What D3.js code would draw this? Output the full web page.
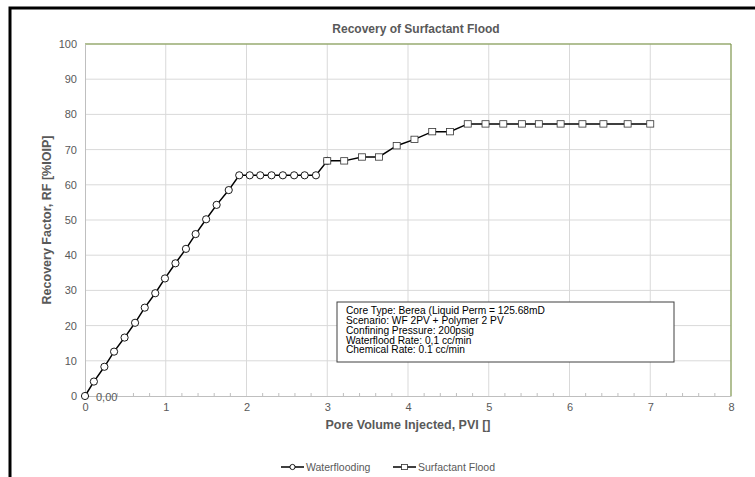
<!DOCTYPE html>
<html>
<head>
<meta charset="utf-8">
<script src="https://cdn.jsdelivr.net/npm/d3@7"></script>
<style>
  body { margin: 0; background: #fff; }
  text { font-family: "Liberation Sans", Arial, sans-serif; }
</style>
</head>
<body>
<svg id="chart" width="755" height="477"></svg>
<script>
// Data
const waterX = [0, 0.11, 0.24, 0.36, 0.49, 0.62, 0.74, 0.87, 0.99, 1.12, 1.25, 1.37, 1.50, 1.63, 1.78, 1.91,
  2.04, 2.17, 2.31, 2.45, 2.59, 2.72, 2.86, 3.0];
const waterY = [0, 4.1, 8.3, 12.6, 16.6, 20.8, 25.1, 29.2, 33.4, 37.7, 41.8, 46.0, 50.2, 54.3, 58.5, 62.7,
  62.7, 62.7, 62.7, 62.7, 62.7, 62.7, 62.7, 66.8];
const surfX = [3.0, 3.21, 3.43, 3.64, 3.86, 4.08, 4.30, 4.52, 4.74, 4.96, 5.18, 5.41, 5.62, 5.89, 6.16, 6.42, 6.72, 7.0];
const surfY = [66.8, 66.8, 67.9, 67.9, 71.1, 72.9, 75.1, 75.1, 77.3, 77.3, 77.3, 77.3, 77.3, 77.3, 77.3, 77.3, 77.3, 77.3];
const xTicks = [0, 1, 2, 3, 4, 5, 6, 7, 8];
const yTicks = [0, 10, 20, 30, 40, 50, 60, 70, 80, 90, 100];
const noteLines = [
  "Core Type: Berea (Liquid Perm = 125.68mD",
  "Scenario: WF 2PV + Polymer 2 PV",
  "Confining Pressure: 200psig",
  "Waterflood Rate: 0,1 cc/min",
  "Chemical Rate: 0.1 cc/min"
];

const textColor = "#595959";
const plot = {left: 85, right: 731, top: 44, bottom: 396};

const svg = d3.select("#chart");

// Outer frame
svg.append("rect")
  .attr("x", 10).attr("y", 8)
  .attr("width", 760).attr("height", 490)
  .attr("fill", "none")
  .attr("stroke", "#000")
  .attr("stroke-width", 3);

// Scales
const x = d3.scaleLinear().domain([0, 8]).range([plot.left, plot.right]);
const y = d3.scaleLinear().domain([0, 100]).range([plot.bottom, plot.top]);

// Gridlines
svg.append("g")
  .selectAll("line")
  .data(xTicks.slice(1))
  .join("line")
  .attr("x1", (d) => x(d)).attr("x2", (d) => x(d))
  .attr("y1", plot.top).attr("y2", plot.bottom)
  .attr("stroke", "#d9d9d9");

svg.append("g")
  .selectAll("line")
  .data(yTicks.slice(1))
  .join("line")
  .attr("x1", plot.left).attr("x2", plot.right)
  .attr("y1", (d) => y(d)).attr("y2", (d) => y(d))
  .attr("stroke", "#d9d9d9");

// Plot border (top/right in green)
svg.append("path")
  .attr("d", `M${plot.left},${plot.top}H${plot.right}V${plot.bottom}`)
  .attr("fill", "none")
  .attr("stroke", "#77933c")
  .attr("stroke-width", 1);

// X Axis
const xAxis = svg.append("g")
  .attr("transform", `translate(0, ${plot.bottom})`)
  .call(d3.axisBottom(x).tickValues(xTicks).tickSize(0).tickPadding(7));
xAxis.select(".domain").attr("stroke", "#bfbfbf");
xAxis.selectAll("text").attr("fill", textColor).attr("font-size", "11px");

// Minor ticks every 0.2
svg.append("g")
  .selectAll("line")
  .data(d3.range(0, 40).map((i) => i * 0.2).filter((v) => Math.abs(v - Math.round(v)) > 0.01))
  .join("line")
  .attr("x1", (d) => x(d)).attr("x2", (d) => x(d))
  .attr("y1", plot.bottom).attr("y2", plot.bottom - 3)
  .attr("stroke", "#bfbfbf");

// Y Axis
const yAxis = svg.append("g")
  .attr("transform", `translate(${plot.left}, 0)`)
  .call(d3.axisLeft(y).tickValues(yTicks).tickSize(0).tickPadding(8));
yAxis.select(".domain").attr("stroke", "#bfbfbf");
yAxis.selectAll("text").attr("fill", textColor).attr("font-size", "11px");

// Titles
svg.append("text")
  .attr("x", 416).attr("y", 33)
  .attr("text-anchor", "middle")
  .attr("font-size", "12px").attr("font-weight", "bold")
  .attr("fill", textColor)
  .text("Recovery of Surfactant Flood");

svg.append("text")
  .attr("x", 408).attr("y", 429)
  .attr("text-anchor", "middle")
  .attr("font-size", "12.5px").attr("font-weight", "bold")
  .attr("fill", textColor)
  .text("Pore Volume Injected, PVI []");

svg.append("text")
  .attr("transform", `translate(51, 220) rotate(-90)`)
  .attr("text-anchor", "middle")
  .attr("font-size", "12.5px").attr("font-weight", "bold")
  .attr("fill", textColor)
  .text("Recovery Factor, RF [%IOIP]");

// Series
const line = d3.line().x((d) => x(d[0])).y((d) => y(d[1]));
const water = waterX.map((v, i) => [v, waterY[i]]);
const surf = surfX.map((v, i) => [v, surfY[i]]);

svg.append("path").datum(water).attr("d", line)
  .attr("fill", "none").attr("stroke", "#000").attr("stroke-width", 1.5);
svg.append("path").datum(surf).attr("d", line)
  .attr("fill", "none").attr("stroke", "#000").attr("stroke-width", 1.5);

svg.append("g").selectAll("circle")
  .data(water)
  .join("circle")
  .attr("cx", (d) => x(d[0])).attr("cy", (d) => y(d[1]))
  .attr("r", 3.6)
  .attr("fill", "#fff").attr("stroke", "#000").attr("stroke-width", 0.9);

svg.append("g").selectAll("rect")
  .data(surf)
  .join("rect")
  .attr("x", (d) => x(d[0]) - 3.5).attr("y", (d) => y(d[1]) - 3.2)
  .attr("width", 7).attr("height", 6.4)
  .attr("fill", "#fff").attr("stroke", "#333").attr("stroke-width", 0.8);

// Data label at origin
svg.append("text")
  .attr("x", 96).attr("y", 401)
  .attr("font-size", "11px").attr("fill", textColor)
  .text("0,00");

// Note box
const note = svg.append("g").attr("transform", "translate(337, 302)");
note.append("rect")
  .attr("width", 337).attr("height", 60)
  .attr("fill", "#fff").attr("stroke", "#404040").attr("stroke-width", 1);
note.selectAll("text")
  .data(noteLines)
  .join("text")
  .attr("x", 9)
  .attr("y", (d, i) => 11.8 + i * 9.9)
  .attr("font-size", "10.2px")
  .attr("fill", "#000")
  .text((d) => d);

// Legend
const legendItems = [
  {name: "Waterflooding", shape: "circle", x: 281},
  {name: "Surfactant Flood", shape: "square", x: 393}
];
const legend = svg.append("g").attr("transform", "translate(0, 467)");
legendItems.forEach((d) => {
  const g = legend.append("g").attr("transform", `translate(${d.x}, 0)`);
  g.append("line").attr("x1", 0).attr("x2", 23).attr("stroke", "#000").attr("stroke-width", 1.5);
  if (d.shape === "circle") {
    g.append("circle").attr("cx", 11.5).attr("r", 2.6).attr("fill", "#fff").attr("stroke", "#000").attr("stroke-width", 0.9);
  } else {
    g.append("rect").attr("x", 8.5).attr("y", -2.6).attr("width", 6).attr("height", 5.2)
      .attr("fill", "#fff").attr("stroke", "#333").attr("stroke-width", 0.8);
  }
  g.append("text").attr("x", 25).attr("y", 3.8)
    .attr("font-size", "10.5px").attr("fill", textColor)
    .text(d.name);
});
</script>
</body>
</html>
